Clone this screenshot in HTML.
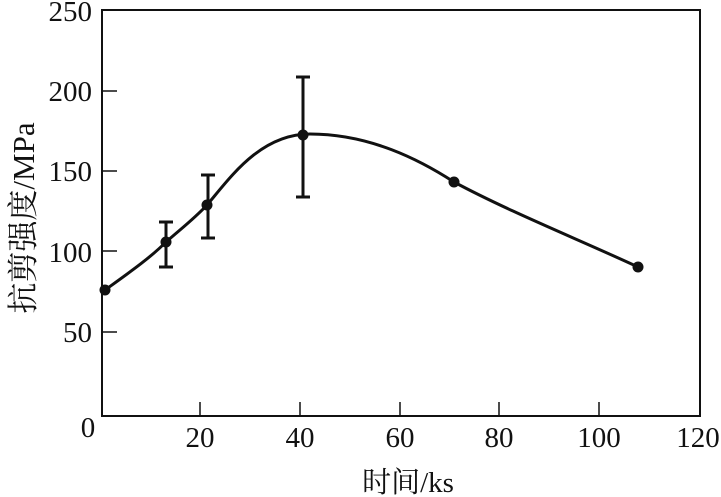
<!DOCTYPE html>
<html><head><meta charset="utf-8"><style>
html,body{margin:0;padding:0;background:#fff;}
svg{display:block;}
text{font-family:"Liberation Serif","Noto Serif CJK SC",serif;fill:#111;}
</style></head><body>
<svg width="721" height="497" viewBox="0 0 721 497" xmlns="http://www.w3.org/2000/svg">
<rect x="102" y="10" width="598" height="406" fill="none" stroke="#111" stroke-width="2"/>
<g stroke="#111" stroke-width="1.5">
<line x1="102" y1="91" x2="117" y2="91"/>
<line x1="102" y1="171" x2="117" y2="171"/>
<line x1="102" y1="251" x2="117" y2="251"/>
<line x1="102" y1="332" x2="117" y2="332"/>
<line x1="200" y1="416" x2="200" y2="402"/>
<line x1="300" y1="416" x2="300" y2="402"/>
<line x1="400" y1="416" x2="400" y2="402"/>
<line x1="499" y1="416" x2="499" y2="402"/>
<line x1="599" y1="416" x2="599" y2="402"/>
</g>
<g font-size="29" text-anchor="end">
<text x="92" y="21">250</text>
<text x="92" y="101">200</text>
<text x="92" y="181">150</text>
<text x="92" y="262">100</text>
<text x="92" y="342">50</text>
</g>
<g font-size="29" text-anchor="middle">
<text x="88" y="437">0</text>
<text x="200" y="447">20</text>
<text x="300" y="447">40</text>
<text x="400" y="447">60</text>
<text x="499" y="447">80</text>
<text x="599" y="447">100</text>
<text x="698" y="447">120</text>
</g>
<text x="408" y="492" font-size="29" text-anchor="middle">时间/ks</text>
<text transform="translate(34,218) rotate(-90)" font-size="31" text-anchor="middle">抗剪强度/MPa</text>
<path d="M105,290 C130,272 150,258 166,242 C182,228 195,218 207,205 C230,178 260,134 310,134 C370,134 420,160 454,182 C510,212 580,240 638,267" fill="none" stroke="#111" stroke-width="3"/>
<g stroke="#111" stroke-width="3">
<line x1="166" y1="222" x2="166" y2="267"/><line x1="159" y1="222" x2="173" y2="222"/><line x1="159" y1="267" x2="173" y2="267"/>
<line x1="208" y1="175" x2="208" y2="238"/><line x1="201" y1="175" x2="215" y2="175"/><line x1="201" y1="238" x2="215" y2="238"/>
<line x1="303" y1="77" x2="303" y2="197"/><line x1="296" y1="77" x2="310" y2="77"/><line x1="296" y1="197" x2="310" y2="197"/>
</g>
<g fill="#111">
<circle cx="105" cy="290" r="5.5"/>
<circle cx="166" cy="242" r="5.5"/>
<circle cx="207" cy="205" r="5.5"/>
<circle cx="303" cy="135" r="5.5"/>
<circle cx="454" cy="182" r="5.5"/>
<circle cx="638" cy="267" r="5.5"/>
</g>
</svg>
</body></html>
